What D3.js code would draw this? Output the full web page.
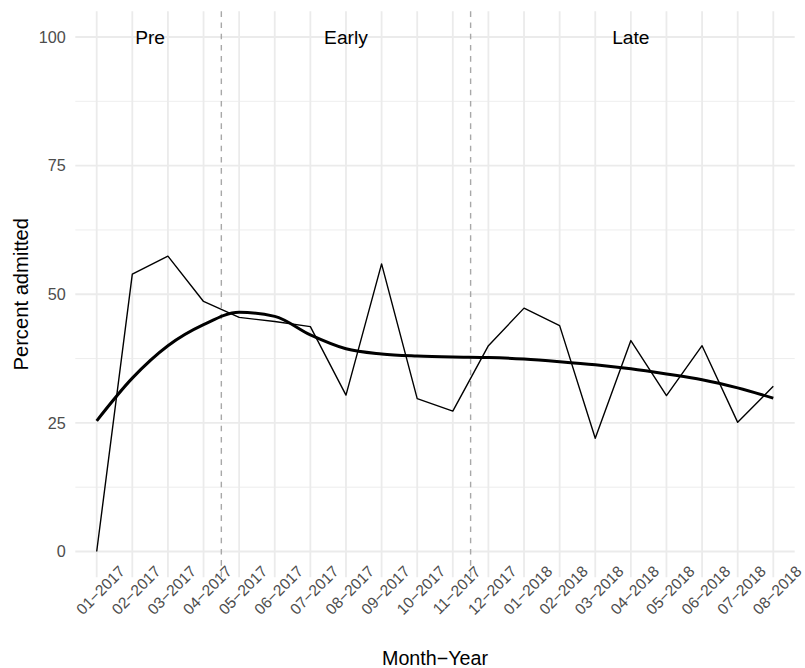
<!DOCTYPE html>
<html>
<head>
<meta charset="utf-8">
<script src="https://cdn.jsdelivr.net/npm/d3@7"></script>
<style>
  html, body { margin: 0; padding: 0; background: #fff; }
  svg { display: block; font-family: "Liberation Sans", Arial, sans-serif; }
</style>
</head>
<body>
<div id="chart"></div>
<script>
// month labels on the x axis
const months = [
  '01\u22122017', '02\u22122017', '03\u22122017', '04\u22122017', '05\u22122017',
  '06\u22122017', '07\u22122017', '08\u22122017', '09\u22122017', '10\u22122017',
  '11\u22122017', '12\u22122017', '01\u22122018', '02\u22122018', '03\u22122018',
  '04\u22122018', '05\u22122018', '06\u22122018', '07\u22122018', '08\u22122018'
];

// monthly percent admitted (thin line)
const admitted = [0, 53.9, 57.4, 48.6, 45.5, 44.7, 43.7, 30.4, 55.9, 29.7,
  27.3, 40.0, 47.3, 43.9, 22.0, 41.0, 30.3, 40.0, 25.1, 32.1];

// smoothed trend (thick line)
const trend = [25.4, 33.7, 40.0, 44.1, 46.5, 45.7, 42.1, 39.4, 38.4, 38.0,
  37.8, 37.7, 37.4, 36.9, 36.3, 35.5, 34.5, 33.4, 31.8, 29.8];

const yTicks = [0, 25, 50, 75, 100];
const yMinor = [12.5, 37.5, 62.5, 87.5];

// period boundaries (between months) and period labels
const breaks = [3.5, 10.5];
const periods = [
  {label: 'Pre', at: 1.5},
  {label: 'Early', at: 7},
  {label: 'Late', at: 15}
];

const width = 805, height = 668;
const panel = {left: 75.3, right: 794.7, top: 11.3, bottom: 577.2};

const svg = d3.select('#chart').append('svg')
  .attr('width', width)
  .attr('height', height);

const x = d3.scalePoint()
  .domain(months)
  .range([96.7, 773.3]);
const step = x.step();
const xi = i => x(months[0]) + i * step;

const y = d3.scaleLinear()
  .domain([0, 100])
  .range([551.5, 37]);

// grid
const grid = svg.append('g');
grid.selectAll('.minor')
  .data(yMinor)
  .enter().append('line')
  .attr('x1', panel.left).attr('x2', panel.right)
  .attr('y1', d => y(d)).attr('y2', d => y(d))
  .attr('stroke', '#ebebeb')
  .attr('stroke-width', 0.9);
grid.selectAll('.major')
  .data(yTicks)
  .enter().append('line')
  .attr('x1', panel.left).attr('x2', panel.right)
  .attr('y1', d => y(d)).attr('y2', d => y(d))
  .attr('stroke', '#ebebeb')
  .attr('stroke-width', 1.8);
grid.selectAll('.vmajor')
  .data(months)
  .enter().append('line')
  .attr('x1', d => x(d)).attr('x2', d => x(d))
  .attr('y1', panel.top).attr('y2', panel.bottom)
  .attr('stroke', '#ebebeb')
  .attr('stroke-width', 1.8);

// period separators
svg.selectAll('.sep')
  .data(breaks)
  .enter().append('line')
  .attr('x1', d => xi(d)).attr('x2', d => xi(d))
  .attr('y1', panel.top).attr('y2', panel.bottom)
  .attr('stroke', '#a8a8a8')
  .attr('stroke-width', 1.4)
  .attr('stroke-dasharray', '5.6,5.6');

// lines
const raw = d3.line()
  .x((d, i) => x(months[i]))
  .y(d => y(d));
svg.append('path')
  .attr('d', raw(admitted))
  .attr('fill', 'none')
  .attr('stroke', '#000')
  .attr('stroke-width', 1.4)
  .attr('stroke-linejoin', 'round');

const smooth = d3.line()
  .x((d, i) => x(months[i]))
  .y(d => y(d))
  .curve(d3.curveMonotoneX);
svg.append('path')
  .attr('d', smooth(trend))
  .attr('fill', 'none')
  .attr('stroke', '#000')
  .attr('stroke-width', 3)
  .attr('stroke-linejoin', 'round');

// period labels
svg.selectAll('.period')
  .data(periods)
  .enter().append('text')
  .attr('x', d => xi(d.at))
  .attr('y', y(100))
  .attr('dy', '0.36em')
  .attr('text-anchor', 'middle')
  .attr('font-size', 19.2)
  .attr('fill', '#000')
  .text(d => d.label);

// axes
const yAxis = svg.append('g')
  .attr('transform', `translate(${panel.left},0)`)
  .call(d3.axisLeft(y).tickValues(yTicks).tickSize(0).tickPadding(9.5));
yAxis.select('.domain').remove();
yAxis.selectAll('text')
  .attr('font-size', 16.2)
  .attr('fill', '#4d4d4d')
  .attr('font-family', '"Liberation Sans", Arial, sans-serif');

const xAxis = svg.append('g')
  .attr('transform', `translate(0,${panel.bottom})`)
  .call(d3.axisBottom(x).tickSize(0));
xAxis.select('.domain').remove();
xAxis.selectAll('text')
  .attr('y', 0)
  .attr('dy', '0.35em')
  .attr('transform', 'translate(3.3,13) rotate(-45)')
  .attr('text-anchor', 'middle')
  .attr('font-size', 15.6)
  .attr('fill', '#4d4d4d')
  .attr('font-family', '"Liberation Sans", Arial, sans-serif');

// axis titles
svg.append('text')
  .attr('x', (panel.left + panel.right) / 2)
  .attr('y', 665)
  .attr('text-anchor', 'middle')
  .attr('font-size', 19.7)
  .attr('fill', '#000')
  .text('Month\u2212Year');

svg.append('text')
  .attr('transform', `translate(28,${(panel.top + panel.bottom) / 2}) rotate(-90)`)
  .attr('text-anchor', 'middle')
  .attr('font-size', 20.2)
  .attr('fill', '#000')
  .text('Percent admitted');
</script>
</body>
</html>
